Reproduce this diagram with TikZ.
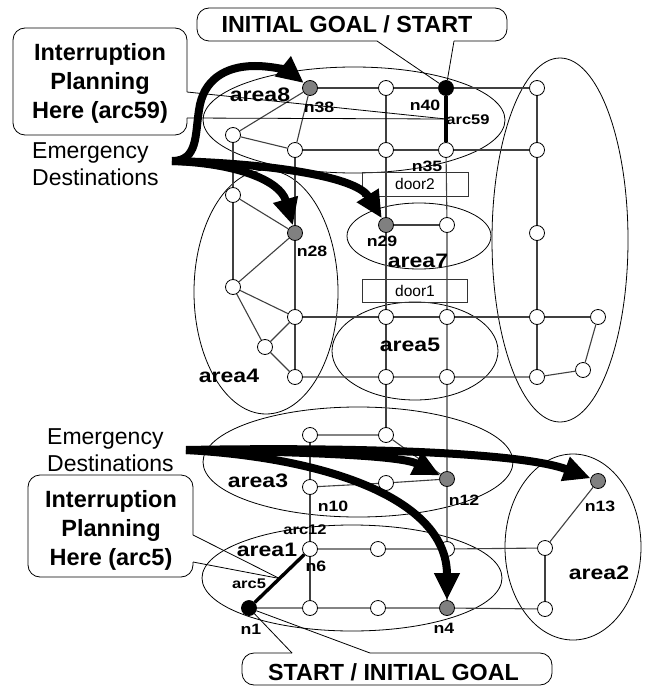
\documentclass[tikz,border=0pt]{standalone}
\usepackage{fontspec}
\setmainfont{Liberation Sans}
\usepackage{graphicx}
\usetikzlibrary{arrows.meta,calc}
\tikzset{
 v/.style={circle, draw=black, fill=white, minimum size=15pt, inner sep=0pt, line width=0.8pt},
 vg/.style={v, fill=black!50},
 vb/.style={v, fill=black},
 edge/.style={draw=black!75, line width=1.1pt},
 heavy/.style={draw=black, line width=3.4pt},
 region/.style={draw=black, line width=0.8pt},
 bigarrow/.style={draw=black, line width=8pt, -{Triangle[length=27pt,width=24pt]}},
 callout/.style={draw=black, line width=0.8pt, rounded corners=12pt},
 tail/.style={draw=black, line width=0.8pt},
 arealbl/.style={font=\fontsize{19.5}{22}\selectfont\bfseries, inner sep=0pt},
 nlbl/.style={font=\fontsize{15}{18}\selectfont\bfseries, inner sep=0pt},
 arclbl/.style={font=\fontsize{14}{17}\selectfont\bfseries, inner sep=0pt},
 doorbox/.style={draw=black!80, line width=0.8pt, inner sep=0pt, font=\fontsize{15.5}{18}\selectfont},
 calltext/.style={font=\fontsize{23.5}{29}\selectfont\bfseries, align=center, inner sep=0pt},
 boxtext/.style={font=\fontsize{23.3}{28}\selectfont\bfseries, inner sep=0pt},
 emtext/.style={font=\fontsize{23}{27}\selectfont, align=left, inner sep=0pt},
}
\newcommand\wide[1]{\scalebox{1.18}[1]{#1}}
\begin{document}
\begin{tikzpicture}[x=1pt,y=-1pt]
\useasboundingbox (0,0) rectangle (653,687);
% ---------- regions ----------
\draw[region] (354,120) ellipse [x radius=151pt, y radius=53pt];
\draw[region] (266,292) ellipse [x radius=72pt, y radius=122pt];
\draw[region] (419,236) ellipse [x radius=72pt, y radius=33pt];
\draw[region] (415,351) ellipse [x radius=83pt, y radius=49pt];
\draw[region] (560,240) ellipse [x radius=68pt, y radius=182pt];
\draw[region] (358,462) ellipse [x radius=155pt, y radius=55pt];
\draw[region] (352,578) ellipse [x radius=150pt, y radius=53pt];
\draw[region] (573,547) ellipse [x radius=68pt, y radius=93pt];
% ---------- doors ----------
\node[doorbox, minimum width=106pt, minimum height=24pt] (door2) at (415,184) {door2};
\node[doorbox, minimum width=105pt, minimum height=23pt] (door1) at (415,290.5) {door1};
% ---------- vertices ----------
\node[vg] (n38) at (310,88) {};
\node[v]  (t1)  at (386,88) {};
\node[vb] (n40) at (446,88) {};
\node[v]  (t2)  at (537,88) {};
\node[v]  (t3)  at (233,135) {};
\node[v]  (t4)  at (295,150) {};
\node[v]  (t5)  at (386,150) {};
\node[v]  (n35) at (446,150) {};
\node[v]  (t6)  at (537,150) {};
\node[v]  (a41) at (233,195) {};
\node[vg] (n28) at (295,233) {};
\node[v]  (a42) at (233,287) {};
\node[v]  (a43) at (295,317) {};
\node[v]  (a44) at (265,347) {};
\node[v]  (a45) at (295,377) {};
\node[vg] (n29) at (386,225) {};
\node[v]  (a71) at (447,225) {};
\node[v]  (r1)  at (537,233) {};
\node[v]  (a51) at (386,317) {};
\node[v]  (a52) at (447,317) {};
\node[v]  (a53) at (386,377) {};
\node[v]  (a54) at (447,377) {};
\node[v]  (r2)  at (537,317) {};
\node[v]  (r3)  at (598,317) {};
\node[v]  (r4)  at (583,370) {};
\node[v]  (r5)  at (537,377) {};
\node[v]  (b1)  at (310,435) {};
\node[v]  (b2)  at (386,435) {};
\node[v]  (n10) at (310,487) {};
\node[v]  (b3)  at (386,483) {};
\node[vg] (n12) at (447,479) {};
\node[v]  (n6)  at (310,549) {};
\node[v]  (c1)  at (378,549) {};
\node[v]  (c2)  at (447,549) {};
\node[vb] (n1)  at (249,608) {};
\node[v]  (c3)  at (310,608) {};
\node[v]  (c4)  at (378,608) {};
\node[vg] (n4)  at (447,608) {};
\node[v]  (d1)  at (545,548) {};
\node[v]  (d2)  at (545,609) {};
\node[vg] (n13) at (598,481) {};
% ---------- edges ----------
\draw[edge] (n38) -- (t1) -- (n40) -- (t2);
\draw[edge] (t4) -- (t5) -- (n35) -- (t6);
\draw[edge] (t1) -- (t5) -- (n29) -- (a51) -- (a53) -- (b2);
\draw[edge] (n35) -- (a71) -- (a52) -- (a54) -- (n12) -- (c2) -- (n4);
\draw[edge] (t2) -- (t6) -- (r1) -- (r2) -- (r5);
\draw[edge] (n29) -- (a71);
\draw[edge] (t3) -- (n38);
\draw[edge] (t3) -- (t4);
\draw[edge] (n38) -- (t4);
\draw[edge] (t3) -- (a41) -- (a42);
\draw[edge] (a41) -- (n28) -- (a42);
\draw[edge] (t4) -- (n28) -- (a43) -- (a45);
\draw[edge] (a42) -- (a43);
\draw[edge] (a42) -- (a44) -- (a43);
\draw[edge] (a44) -- (a45);
\draw[edge] (a43) -- (a51) -- (a52) -- (r2) -- (r3);
\draw[edge] (a45) -- (a53) -- (a54) -- (r5) -- (r4) -- (r3);
\draw[edge] (b1) -- (b2) -- (n12);
\draw[edge] (n10) -- (b3) -- (n12);
\draw[edge] (b1) -- (n10) -- (n6) -- (c3);
\draw[edge] (n6) -- (c1) -- (c2) -- (d1);
\draw[edge] (n1) -- (c3) -- (c4) -- (n4) -- (d2);
\draw[edge] (d1) -- (d2);
\draw[edge] (d1) -- (n13);
\draw[heavy] (n40) -- (n35);
\draw[heavy] (n1) -- (n6);
\coordinate (arc59mid) at ($(n40)!0.5!(n35)$);
\coordinate (arc5mid) at ($(n1)!0.5!(n6)$);
% ---------- callouts ----------
\draw[callout] (377,41) -- (197,41) -- (197,8) -- (507,8) -- (507,41) -- (454,41);
\draw[tail] (377,41) -- (n40);
\draw[tail] (454,41) -- (n40);
\node[boxtext, anchor=base] (goaltop) at (347,33) {INITIAL GOAL / START};

\draw[callout] (187,92) -- (187,28) -- (13,28) -- (13,135) -- (187,135) -- (187,118);
\draw[tail] (187,92) -- (arc59mid);
\draw[tail] (187,118) -- (arc59mid);
\node[calltext, anchor=north] (ip59) at (100,43.5) {Interruption\\Planning\\Here (arc59)};

\draw[callout] (193,535) -- (193,475) -- (28,475) -- (28,577) -- (193,577) -- (193,562);
\draw[tail] (193,535) -- (arc5mid);
\draw[tail] (193,562) -- (arc5mid);
\node[calltext, anchor=north] (ip5) at (111,490) {Interruption\\Planning\\Here (arc5)};

\draw[callout] (292,653) -- (242,653) -- (242,685) -- (552,685) -- (552,653) -- (370,653);
\draw[tail] (292,653) -- (n1);
\draw[tail] (370,653) -- (n1);
\node[boxtext, anchor=base] (goalbot) at (393.5,680) {START / INITIAL GOAL};
% ---------- labels ----------
\node[arealbl] at (260,95) {\wide{area8}};
\node[nlbl] at (319,107) {\wide{n38}};
\node[nlbl] at (425,105) {\wide{n40}};
\node[arclbl] at (468,120) {\wide{arc59}};
\node[nlbl] at (427,166) {\wide{n35}};
\node[nlbl] at (312,251) {\wide{n28}};
\node[nlbl] at (382,241) {\wide{n29}};
\node[arealbl] at (418,261) {\wide{area7}};
\node[arealbl] at (410,345) {\wide{area5}};
\node[arealbl] at (229,376) {\wide{area4}};
\node[arealbl] at (258,481) {\wide{area3}};
\node[nlbl] at (333,506) {\wide{n10}};
\node[nlbl] at (464,500) {\wide{n12}};
\node[nlbl] at (600,506) {\wide{n13}};
\node[arealbl] at (599,573) {\wide{area2}};
\node[arclbl] at (305,530) {\wide{arc12}};
\node[arealbl] at (267,550) {\wide{area1}};
\node[nlbl] at (316,566) {\wide{n6}};
\node[arclbl] at (249,584) {\wide{arc5}};
\node[nlbl] at (251,629) {\wide{n1}};
\node[nlbl] at (444,628) {\wide{n4}};
% ---------- emergency destinations ----------
\node[emtext, anchor=north west] (em1) at (32,142) {Emergency\\Destinations};
\node[emtext, anchor=north west] (em2) at (47,428) {Emergency\\Destinations};
\coordinate (es1) at (172,161);
\coordinate (es2) at (186,450);
\draw[bigarrow] (es1) .. controls (198,161) and (195,135) .. (199,110)
  .. controls (203,80) and (225,66) .. (255,66)
  .. controls (275,66) and (290,72) .. (n38);
\draw[bigarrow] (es1) .. controls (235,163) and (280,180) .. (n28);
\draw[bigarrow] (es1) .. controls (260,163) and (355,175) .. (n29);
\draw[bigarrow] (es2) .. controls (350,447) and (520,452) .. (n13);
\draw[bigarrow] (es2) .. controls (300,452) and (400,455) .. (n12);
\draw[bigarrow] (es2) .. controls (330,458) and (447,500) .. (n4);
\end{tikzpicture}
\end{document}
